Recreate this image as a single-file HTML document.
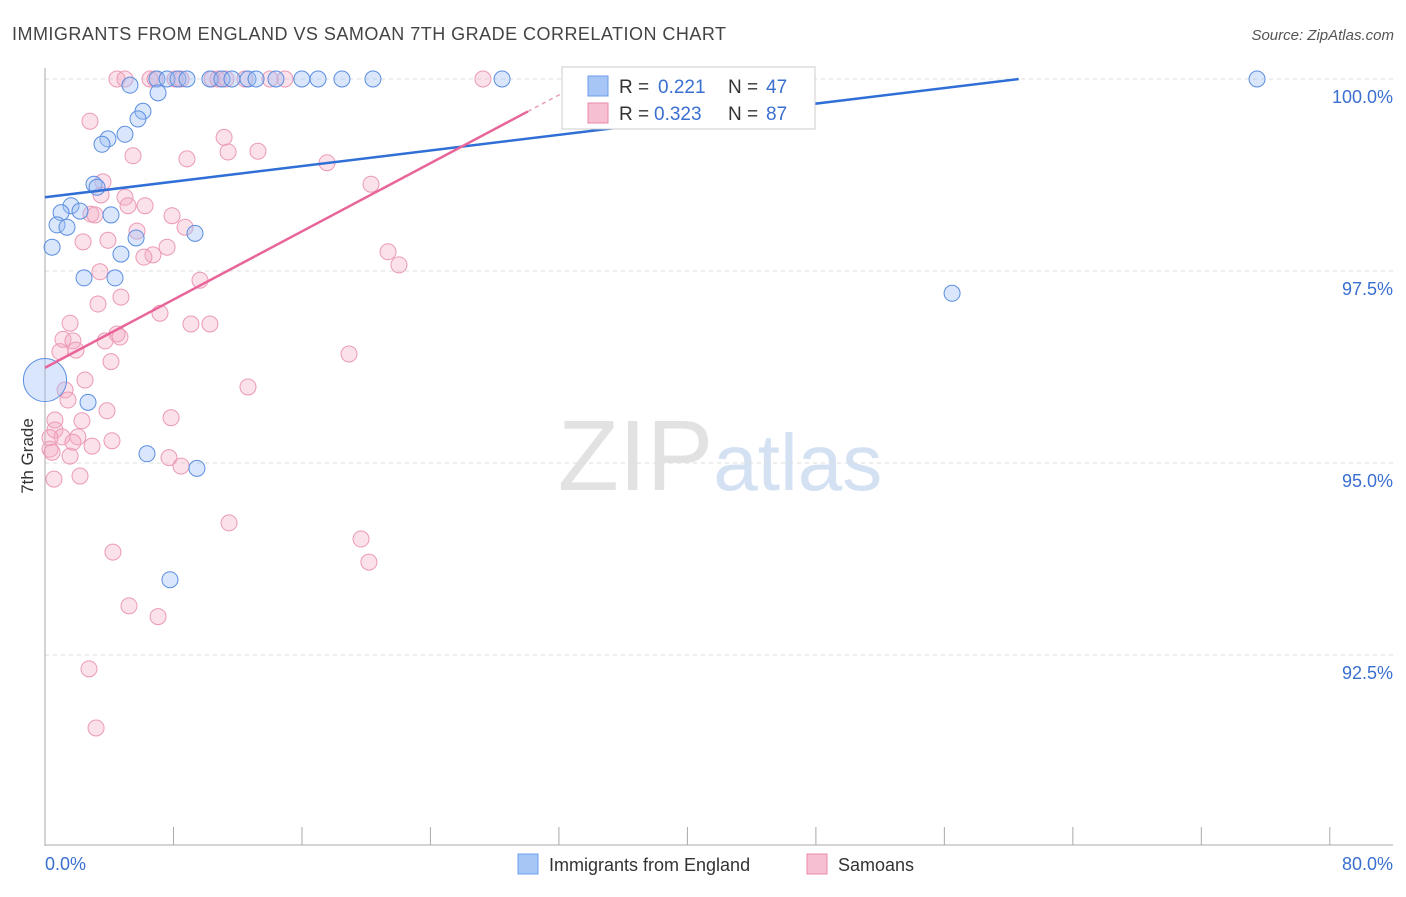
<!DOCTYPE html>
<html><head><meta charset="utf-8">
<style>
body{margin:0;background:#fff;font-family:"Liberation Sans",sans-serif;}
svg text{font-family:"Liberation Sans",sans-serif;}
</style></head>
<body>
<svg id="chart" width="1406" height="892" xmlns="http://www.w3.org/2000/svg">
<text x="12" y="40" font-size="18" fill="#444" textLength="714" lengthAdjust="spacing">IMMIGRANTS FROM ENGLAND VS SAMOAN 7TH GRADE CORRELATION CHART</text>
<text x="1394" y="40" font-size="15" fill="#555" text-anchor="end" font-style="italic">Source: ZipAtlas.com</text>
<text x="720" y="490" font-size="100" text-anchor="middle" fill="#e2e2e2" font-family="Liberation Serif">ZIP<tspan fill="#d3e1f3" font-family="Liberation Sans" font-size="80">atlas</tspan></text>
<text transform="translate(33,456) rotate(-90)" font-size="17" fill="#333" text-anchor="middle">7th Grade</text>
<g id="grid"></g>
<g id="axes"></g>
<g id="pts"></g>
<g id="trend"></g>
<g>
<rect x="562" y="67" width="253" height="62" fill="#fff" stroke="#ccc"/>
<rect x="588" y="76" width="20" height="20" fill="#a8c6f5" stroke="#6d9eeb"/>
<text x="619" y="93" font-size="19" fill="#333">R =</text>
<text x="658" y="93" font-size="19" fill="#3a6fd0">0.221</text>
<text x="728" y="93" font-size="19" fill="#333">N =</text>
<text x="766" y="93" font-size="19" fill="#3a6fd0">47</text>
<rect x="588" y="103" width="20" height="20" fill="#f7bfd2" stroke="#e88aaa"/>
<text x="619" y="120" font-size="19" fill="#333">R =</text>
<text x="654" y="120" font-size="19" fill="#3a6fd0">0.323</text>
<text x="728" y="120" font-size="19" fill="#333">N =</text>
<text x="766" y="120" font-size="19" fill="#3a6fd0">87</text>
</g>
<g>
<rect x="518" y="854" width="20" height="20" fill="#a8c6f5" stroke="#6d9eeb"/>
<text x="549" y="871" font-size="18" fill="#333">Immigrants from England</text>
<rect x="807" y="854" width="20" height="20" fill="#f7bfd2" stroke="#e88aaa"/>
<text x="838" y="871" font-size="18" fill="#333">Samoans</text>
</g>
</svg>
<script>
const yTicks=[100,97.5,95,92.5];
const yTickLabels=["100.0%","97.5%","95.0%","92.5%"];
const xTicks=[0,8,16,24,32,40,48,56,64,72,80];
const xTickLabels=["0.0%","80.0%"];
const blueX=[6.97,7.60,8.28,8.84,10.27,11.02,11.64,12.64,13.14,14.38,15.99,17.0,18.49,20.42,28.46,33.0,75.47,5.29,7.04,6.10,5.79,4.98,3.92,3.55,3.05,3.24,1.62,2.18,1.0,4.11,0.75,1.37,9.34,5.67,0.44,4.73,2.43,4.36,56.48,0,2.68,6.35,9.46,7.78];
const blueY=[100,100,100,100,100,100,100,100,100,100,100,100,100,100,100,100,100,99.92,99.82,99.58,99.48,99.28,99.22,99.15,98.63,98.59,98.35,98.28,98.26,98.23,98.10,98.07,97.99,97.93,97.81,97.72,97.41,97.41,97.21,96.08,95.79,95.12,94.93,93.48];
const blueSize=[1,1,1,1,1,1,1,1,1,1,1,1,1,1,1,1,1,1,1,1,1,1,1,1,1,1,1,1,1,1,1,1,1,1,1,1,1,1,1,2.7,1,1,1,1];
const pinkX=[4.48,4.98,6.54,6.85,8.10,8.47,10.40,10.77,11.27,12.45,14.01,14.94,27.27,2.80,5.48,11.15,8.84,11.40,13.26,17.56,20.30,3.61,3.49,4.98,5.17,6.23,2.86,3.11,7.91,8.72,5.73,2.37,3.92,7.60,6.72,6.16,21.36,22.04,3.42,9.65,4.73,3.30,7.16,1.56,9.09,10.27,4.48,1.12,1.74,3.74,4.67,1.93,0.93,4.11,18.93,2.49,12.64,1.25,1.43,3.86,7.85,0.62,2.30,0.62,1.06,2.05,0.31,4.17,2.93,1.74,0.31,0.44,1.56,7.72,8.47,2.18,0.56,11.46,19.68,4.23,20.17,5.23,7.04,2.74,3.18];
const pinkY=[100,100,100,100,100,100,100,100,100,100,100,100,100,99.45,99.00,99.24,98.96,99.05,99.06,98.91,98.63,98.66,98.49,98.46,98.35,98.35,98.24,98.23,98.22,98.07,98.02,97.88,97.90,97.81,97.71,97.68,97.75,97.58,97.49,97.38,97.16,97.07,96.95,96.82,96.81,96.81,96.68,96.61,96.59,96.59,96.64,96.47,96.45,96.32,96.42,96.08,95.99,95.95,95.82,95.68,95.59,95.56,95.55,95.43,95.34,95.34,95.33,95.29,95.22,95.27,95.18,95.14,95.09,95.07,94.96,94.83,94.79,94.22,94.01,93.84,93.71,93.14,93.0,92.32,91.55];
const blueTrend=[98.46,0.0254];
const pinkTrend=[96.24,0.111];
const NS="http://www.w3.org/2000/svg";
const sx=v=>45+v*16.06;
const sy=v=>79+(100-v)*76.8;
function mk(tag,attrs,parent){const e=document.createElementNS(NS,tag);for(const k in attrs)e.setAttribute(k,attrs[k]);document.getElementById(parent).appendChild(e);return e;}
yTicks.forEach((t,i)=>{
  const l=mk('line',{x1:45,x2:1393,y1:sy(t),y2:sy(t),stroke:'#ddd','stroke-dasharray':'4,4'},'grid');
  
  
  const tx=mk('text',{x:1393,y:sy(t)+24,'font-size':18,fill:'#3a6fd0','text-anchor':'end'},'axes');
  tx.textContent=yTickLabels[i];
  
  
});
let ax=mk('line',{x1:45,x2:45,y1:68,y2:846,stroke:'#aaa'},'axes');


ax=mk('line',{x1:45,x2:1393,y1:845,y2:845,stroke:'#aaa'},'axes');


xTicks.forEach(t=>{
  const l=mk('line',{x1:sx(t),x2:sx(t),y1:827,y2:845,stroke:'#aaa'},'axes');
  
  
});
let t0=mk('text',{x:45,y:870,'font-size':18,fill:'#3a6fd0'},'axes');t0.textContent=xTickLabels[0];


let t1=mk('text',{x:1393,y:870,'font-size':18,fill:'#3a6fd0','text-anchor':'end'},'axes');t1.textContent=xTickLabels[1];


pinkX.forEach((x,i)=>{
  const c=mk('circle',{cx:sx(x),cy:sy(pinkY[i]),r:8,fill:'rgba(244,170,196,0.35)',stroke:'#eb9ab5','stroke-width':1},'pts');
  
  
});
blueX.forEach((x,i)=>{
  const c=mk('circle',{cx:sx(x),cy:sy(blueY[i]),r:8*blueSize[i],fill:'rgba(160,192,244,0.4)',stroke:'#5b8ee0','stroke-width':1},'pts');
  
  
});
const bEnd=(100-blueTrend[0])/blueTrend[1];
let bl=mk('line',{x1:sx(0),y1:sy(blueTrend[0]),x2:sx(bEnd),y2:sy(100),stroke:'#2f6fd6','stroke-width':2.5},'trend');


let pl=mk('line',{x1:sx(0),y1:sy(pinkTrend[0]),x2:sx(30.07),y2:sy(pinkTrend[0]+pinkTrend[1]*30.07),stroke:'#e8659a','stroke-width':2.5},'trend');


let pd=mk('line',{x1:sx(30.07),y1:sy(pinkTrend[0]+pinkTrend[1]*30.07),x2:sx(33.5),y2:sy(pinkTrend[0]+pinkTrend[1]*33.5),stroke:'#e8a0bb','stroke-width':1.5,'stroke-dasharray':'4,4'},'trend');


</script>
</body></html>
